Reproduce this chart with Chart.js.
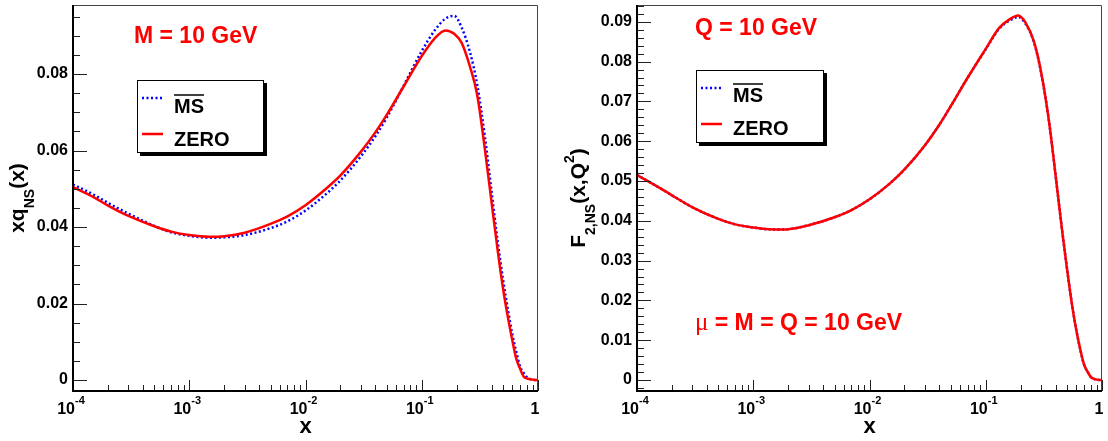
<!DOCTYPE html>
<html><head><meta charset="utf-8">
<script src="https://cdn.jsdelivr.net/npm/chart.js@4.4.0/dist/chart.umd.min.js"></script>
<style>
html,body{margin:0;padding:0;background:#fff;width:1108px;height:441px;overflow:hidden}
canvas{position:absolute;top:0}
#c1{left:0}
#c2{left:564px}
</style></head><body>
<canvas id="c1" width="554" height="441"></canvas>
<canvas id="c2" width="544" height="441"></canvas>
<script>
// ---- data ----
const xValues = [1e-4, 1.5e-4, 2e-4, 3e-4, 5e-4, 7e-4, 1e-3, 1.5e-3, 2e-3, 3e-3, 5e-3, 7e-3,
  0.01, 0.015, 0.02, 0.03, 0.04, 0.05, 0.07, 0.1, 0.13, 0.16, 0.19, 0.22, 0.26, 0.3,
  0.35, 0.4, 0.45, 0.5, 0.55, 0.6, 0.65, 0.7, 0.75, 0.8, 0.85, 0.9, 0.95, 1.0];

// left panel: xq_NS(x), M = 10 GeV
const zeroLeft = [0.0504, 0.0478, 0.0456, 0.0429, 0.0402, 0.0388, 0.0379, 0.03745, 0.0376, 0.0385, 0.0408, 0.0428,
  0.0457, 0.0500, 0.0535, 0.0597, 0.0648, 0.0693, 0.0768, 0.0847, 0.0894, 0.0914, 0.0905, 0.0882, 0.0819, 0.0745,
  0.0601, 0.0461, 0.0339, 0.0240, 0.0165, 0.0105, 0.0056, 0.0030, 0.0010, 0.0004, 0.0002, 0.0001, 0.0, 0.0];
const msbarLeft = [0.0511, 0.0485, 0.0463, 0.0435, 0.0403, 0.0386, 0.0377, 0.0372, 0.0373, 0.0379, 0.0397, 0.0415,
  0.0443, 0.0486, 0.0522, 0.0585, 0.0638, 0.0686, 0.0770, 0.0860, 0.0915, 0.0945, 0.0952, 0.0922, 0.0857, 0.0772,
  0.0634, 0.0489, 0.0362, 0.0263, 0.0185, 0.0121, 0.0074, 0.0036, 0.0019, 0.0008, 0.0003, 0.0001, 0.0, 0.0];

// right panel: F2,NS(x,Q^2), Q = 10 GeV
const zeroRight = [0.0515, 0.0486, 0.0464, 0.0434, 0.0405, 0.0391, 0.0383, 0.0378, 0.0379, 0.0389, 0.0409, 0.0427,
  0.0454, 0.0494, 0.0529, 0.0590, 0.0642, 0.0688, 0.0760, 0.0832, 0.0884, 0.0906, 0.0916, 0.0898, 0.0850, 0.0772,
  0.0650, 0.0511, 0.0384, 0.0279, 0.0192, 0.0126, 0.0077, 0.0039, 0.0021, 0.0008, 0.0003, 0.0001, 0.0, 0.0];
const msbarRight = [0.0515, 0.0486, 0.0464, 0.0434, 0.0405, 0.0391, 0.0383, 0.0378, 0.0379, 0.0389, 0.0409, 0.0427,
  0.0454, 0.0494, 0.0529, 0.0590, 0.0642, 0.0688, 0.0760, 0.0831, 0.0882, 0.0903, 0.0912, 0.0895, 0.0848, 0.0771,
  0.0650, 0.0511, 0.0385, 0.0280, 0.0193, 0.0127, 0.0077, 0.0039, 0.0021, 0.0008, 0.0003, 0.0001, 0.0, 0.0];

const xTickExponents = [-4, -3, -2, -1, 0];
const leftYTicks = [0, 0.02, 0.04, 0.06, 0.08];
const rightYTicks = [0, 0.01, 0.02, 0.03, 0.04, 0.05, 0.06, 0.07, 0.08, 0.09];
const seriesNames = ['ZERO', 'MS'];
const leftTitleRuns = [['xq', 0], ['NS', 1], ['(x)', 0]];
const rightTitleRuns = [['F', 0], ['2,NS', 1], ['(x,Q', 0], ['2', -1], [')', 0]];
const leftNote = 'M = 10 GeV';
const rightNote = 'Q = 10 GeV';
const rightNote2 = ' = M = Q = 10 GeV';

const FONT = "'Liberation Sans', Arial, Helvetica, sans-serif";
Chart.defaults.font.family = FONT;

const rootDecor = {
  id: 'rootDecor',
  afterDraw(chart, args, o) {
    const {ctx, chartArea: ca} = chart;
    const xs = chart.scales.x, ys = chart.scales.y;
    ctx.save();
    // frame: top & right thin
    ctx.strokeStyle = '#444'; ctx.lineWidth = 1;
    ctx.beginPath();
    ctx.moveTo(ca.left, ca.top + 0.5); ctx.lineTo(ca.right - 0.5, ca.top + 0.5); ctx.lineTo(ca.right - 0.5, ca.bottom);
    ctx.stroke();
    // ticks
    ctx.strokeStyle = '#222'; ctx.lineWidth = 1;
    ctx.beginPath();
    for (let e = -4; e <= 0; e++) {
      const px = Math.round(xs.getPixelForValue(Math.pow(10, e))) + 0.5;
      ctx.moveTo(px, ca.bottom); ctx.lineTo(px, ca.bottom - 11);
      if (e < 0) {
        for (let k = 2; k <= 9; k++) {
          const mx = Math.round(xs.getPixelForValue(k * Math.pow(10, e))) + 0.5;
          ctx.moveTo(mx, ca.bottom); ctx.lineTo(mx, ca.bottom - 6);
        }
      }
    }
    const n0 = Math.ceil(ys.min / o.minorStep - 1e-6), n1 = Math.floor(ys.max / o.minorStep + 1e-6);
    for (let n = n0; n <= n1; n++) {
      const v = n * o.minorStep;
      const py = Math.round(ys.getPixelForValue(v)) + 0.5;
      const major = (n % o.majorEvery) === 0;
      ctx.moveTo(ca.left, py); ctx.lineTo(ca.left + (major ? 14 : 7), py);
    }
    ctx.stroke();
    // axes lines (thick)
    ctx.strokeStyle = '#000'; ctx.lineWidth = 2;
    ctx.beginPath();
    ctx.moveTo(ca.left, ca.top); ctx.lineTo(ca.left, ca.bottom); ctx.lineTo(ca.right, ca.bottom);
    ctx.stroke();

    // x tick labels 10^n
    ctx.fillStyle = '#000'; ctx.textBaseline = 'alphabetic';
    xTickExponents.forEach(e => {
      const px = xs.getPixelForValue(Math.pow(10, e));
      if (e === 0) {
        ctx.font = 'bold 16px ' + FONT; ctx.textAlign = 'center';
        ctx.fillText('1', px - 3, 414);
        return;
      }
      ctx.textAlign = 'left';
      ctx.font = 'bold 16px ' + FONT;
      const w1 = ctx.measureText('10').width;
      ctx.font = 'bold 11px ' + FONT;
      const sup = String(e);
      const w2 = ctx.measureText(sup).width;
      const start = px - (w1 + w2) / 2 - 2;
      ctx.font = 'bold 16px ' + FONT;
      ctx.fillText('10', start, 414);
      ctx.font = 'bold 11px ' + FONT;
      ctx.fillText(sup, start + w1, 404);
    });
    // x title
    ctx.font = 'bold 22px ' + FONT; ctx.textAlign = 'center';
    ctx.fillText('x', (ca.left + ca.right) / 2, 433);

    // y title (rotated, with sub/superscripts)
    ctx.save();
    ctx.translate(o.yTitleX, (ca.top + ca.bottom) / 2);
    ctx.rotate(-Math.PI / 2);
    ctx.textAlign = 'left';
    let total = 0;
    const runs = o.titleRuns.map(([t, lvl]) => {
      const size = lvl === 0 ? 21 : 14;
      ctx.font = 'bold ' + size + 'px ' + FONT;
      const w = ctx.measureText(t).width;
      total += w;
      return {t, size, dy: lvl === 0 ? 0 : (lvl > 0 ? 10 : -11), w};
    });
    let cx = -total / 2;
    runs.forEach(r => {
      ctx.font = 'bold ' + r.size + 'px ' + FONT;
      ctx.fillText(r.t, cx, r.dy);
      cx += r.w;
    });
    ctx.restore();

    // notes
    ctx.fillStyle = '#ff0000'; ctx.textAlign = 'left';
    ctx.font = 'bold 23px ' + FONT;
    ctx.fillText(o.note, o.noteX, o.noteY);
    if (o.note2) {
      ctx.font = '25px "Liberation Serif", "DejaVu Serif", serif';
      ctx.fillText('\u03bc', o.note2X, o.note2Y);
      const wm = ctx.measureText('\u03bc').width;
      ctx.font = 'bold 23px ' + FONT;
      ctx.fillText(o.note2, o.note2X + wm, o.note2Y);
    }

    // legend box with shadow
    const L = o.legend;
    ctx.fillStyle = '#000';
    ctx.fillRect(L.x + 3, L.y + 3, L.w, L.h);
    ctx.fillStyle = '#fff';
    ctx.fillRect(L.x, L.y, L.w, L.h);
    ctx.strokeStyle = '#000'; ctx.lineWidth = 1;
    ctx.strokeRect(L.x + 0.5, L.y + 0.5, L.w - 1, L.h - 1);
    // MS entry (blue dotted)
    ctx.strokeStyle = '#0000ff'; ctx.lineWidth = 2.5; ctx.setLineDash([2, 2.5]);
    ctx.beginPath(); ctx.moveTo(L.lx1, L.y1); ctx.lineTo(L.lx2, L.y1); ctx.stroke();
    ctx.setLineDash([]);
    ctx.strokeStyle = '#ff0000'; ctx.lineWidth = 2.5;
    ctx.beginPath(); ctx.moveTo(L.lx1, L.y2); ctx.lineTo(L.lx2, L.y2); ctx.stroke();
    ctx.fillStyle = '#000'; ctx.font = 'bold 20px ' + FONT;
    ctx.fillText(seriesNames[1], L.tx, L.b1);
    const wms = ctx.measureText(seriesNames[1]).width;
    ctx.strokeStyle = '#000'; ctx.lineWidth = 1.5;
    ctx.beginPath(); ctx.moveTo(L.tx, L.b1 - 18); ctx.lineTo(L.tx + wms, L.b1 - 18); ctx.stroke();
    ctx.fillText(seriesNames[0], L.tx, L.b2);
    ctx.restore();
  }
};

function makeChart(id, zero, msbar, yTicks, yMin, yMax, padRight, deco) {
  return new Chart(document.getElementById(id), {
    type: 'line',
    data: {
      datasets: [
        {label: seriesNames[0], data: xValues.map((x, i) => ({x, y: zero[i]})),
         borderColor: '#ff0000', borderWidth: 2.5, pointRadius: 0, fill: false,
         cubicInterpolationMode: 'monotone'},
        {label: seriesNames[1], data: xValues.map((x, i) => ({x, y: msbar[i]})),
         borderColor: '#0000ff', borderWidth: 2.5, borderDash: [2, 2.5], pointRadius: 0, fill: false,
         cubicInterpolationMode: 'monotone'}
      ]
    },
    options: {
      responsive: false, animation: false, devicePixelRatio: 1,
      layout: {padding: {top: 5, right: padRight, left: 0, bottom: 0}},
      plugins: {legend: {display: false}, tooltip: {enabled: false}, rootDecor: deco},
      scales: {
        x: {type: 'logarithmic', min: 1e-4, max: 1,
            grid: {display: false, drawTicks: false}, border: {display: false},
            ticks: {display: false},
            afterBuildTicks(s) { s.ticks = xTickExponents.map(e => ({value: Math.pow(10, e)})); },
            afterFit(s) { s.height = 50; s.paddingLeft = 0; s.paddingRight = 0; }},
        y: {type: 'linear', min: yMin, max: yMax,
            grid: {display: false, drawTicks: false}, border: {display: false},
            ticks: {padding: 5, color: '#000', autoSkip: false, font: {size: 16, weight: 'bold'},
                    callback: v => (v === 0 ? '0' : v.toFixed(2))},
            afterBuildTicks(s) { s.ticks = yTicks.map(v => ({value: v})); },
            afterFit(s) { s.width = 73; s.paddingTop = 0; s.paddingBottom = 0; }}
      }
    },
    plugins: [rootDecor]
  });
}

makeChart('c1', zeroLeft, msbarLeft, leftYTicks, -0.002876, 0.09804, 16, {
  minorStep: 0.005, majorEvery: 4, yTitleX: 24, titleRuns: leftTitleRuns,
  note: leftNote, noteX: 134, noteY: 43,
  legend: {x: 137, y: 80, w: 127, h: 73, lx1: 142, lx2: 163, y1: 98, y2: 134, tx: 174, b1: 113, b2: 146}
});
makeChart('c2', zeroRight, msbarRight, rightYTicks, -0.002764, 0.09422, 6, {
  minorStep: 0.002, majorEvery: 5, yTitleX: 21, titleRuns: rightTitleRuns,
  note: rightNote, noteX: 131, noteY: 35,
  note2: rightNote2, note2X: 131, note2Y: 330,
  legend: {x: 132, y: 70, w: 128, h: 73, lx1: 137, lx2: 158, y1: 88, y2: 124, tx: 169, b1: 102, b2: 135}
});
</script>
</body></html>
